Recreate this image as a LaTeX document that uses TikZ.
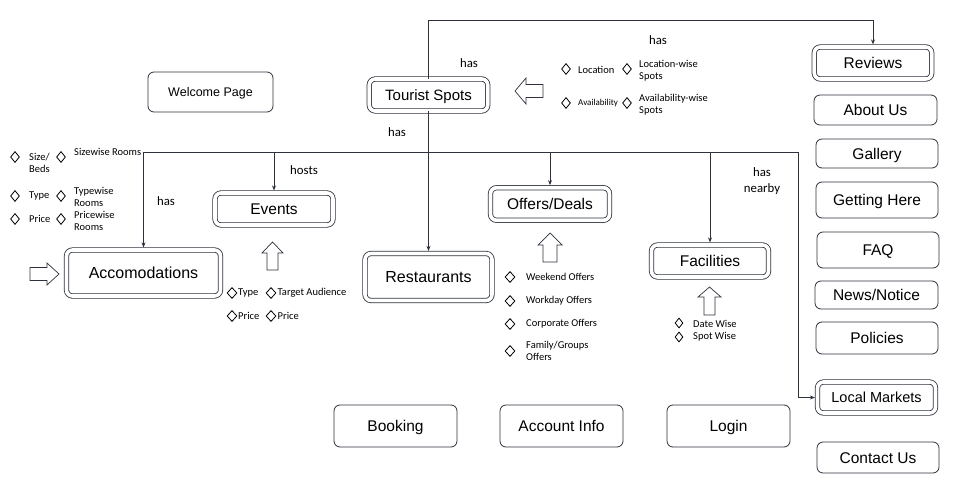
\documentclass[tikz,border=0pt]{standalone}
\usepackage{fontspec}
\setmainfont{Liberation Sans}
\newfontfamily\calfont{Carlito}
\usetikzlibrary{shapes.geometric,arrows.meta}
\definecolor{ln}{RGB}{45,50,60}
\begin{document}
\begin{tikzpicture}[x=1pt,y=-1pt,
  every node/.style={inner sep=0pt, text=black},
  dbox/.style={draw=ln, double=white, double distance=3.6pt, line width=0.8pt, rounded corners=6pt, text height=11.2pt, text depth=0pt, font=\fontsize{15.5}{18}\selectfont},
  sbox/.style={draw=ln, line width=0.8pt, rounded corners=6pt, minimum width=122pt, text height=11.2pt, text depth=0pt, font=\fontsize{15.5}{18}\selectfont},
  lbl/.style={font=\calfont\fontsize{12.8}{16}\selectfont, align=center},
  sm/.style={font=\calfont\fontsize{10.5}{12.5}\selectfont, anchor=west, align=left},
  dia/.style={diamond, draw=black, line width=0.8pt, minimum width=9pt, minimum height=11pt, inner sep=0pt},
  con/.style={draw=ln, line width=0.8pt},
  arr/.style={con, -{Stealth[length=5pt,width=4pt]}},
  darr/.style={arr, shorten >=2.2pt},
  blk/.style={draw=ln, line width=0.7pt, fill=white, line join=miter}
]
\useasboundingbox[fill=white] (0,0) rectangle (960,481);

% ---------- boxes ----------
\node[sbox, minimum width=125pt, minimum height=40pt, font=\fontsize{12.5}{15}\selectfont, text height=9pt] (wel) at (210.5,92) {Welcome Page};
\node[dbox, minimum width=118.5pt, minimum height=32pt, font=\fontsize{15}{18}\selectfont, text height=10.8pt] (ts) at (428.5,95) {Tourist Spots};
\node[dbox, minimum width=154pt, minimum height=46pt, font=\fontsize{16}{19}\selectfont, text height=11.5pt] (acc) at (143.5,273) {Accomodations};
\node[dbox, minimum width=118pt, minimum height=32pt] (ev) at (274,209) {Events};
\node[dbox, minimum width=127pt, minimum height=47pt, font=\fontsize{16}{19}\selectfont, text height=11.5pt] (rest) at (428.5,277) {Restaurants};
\node[dbox, minimum width=119pt, minimum height=32.5pt] (off) at (550,204) {Offers/Deals};
\node[dbox, minimum width=117pt, minimum height=32pt] (fac) at (710,261) {Facilities};

\node[dbox, minimum width=117.5pt, minimum height=32pt] (rev) at (873,63) {Reviews};
\node[sbox, minimum width=123pt, minimum height=30pt] (about) at (875.5,110) {About Us};
\node[sbox, minimum height=29pt] (gal) at (877,153.5) {Gallery};
\node[sbox, minimum height=36pt] (get) at (877,200) {Getting Here};
\node[sbox, minimum height=36pt] (faq) at (878,250) {FAQ};
\node[sbox, minimum width=123pt, minimum height=28pt] (news) at (876.5,295) {News/Notice};
\node[sbox, minimum height=32pt] (pol) at (877,338) {Policies};
\node[dbox, minimum width=118pt, minimum height=31pt, font=\fontsize{14.5}{17}\selectfont, text height=10.4pt] (lm) at (876.5,397.5) {Local Markets};
\node[sbox, minimum height=31pt] (cont) at (878,457.5) {Contact Us};

\node[sbox, minimum width=123pt, minimum height=42pt] (book) at (395.5,426) {Booking};
\node[sbox, minimum width=123pt, minimum height=42pt] (acct) at (561.5,426) {Account Info};
\node[sbox, minimum width=123pt, minimum height=42pt] (login) at (728.5,426) {Login};

% ---------- connectors ----------
\coordinate (tt) at (428.5,20);
\draw[darr] (ts.north) -- (tt) -| (rev.north);
\draw[darr] (ts.south) -- (rest.north);
\coordinate (j) at (428.5,152);
\coordinate (jr) at (798,152);
\draw[darr] (j) -| (acc.north);
\draw[darr] (j) -- (jr) |- (lm.west);
\draw[darr] (ev.north |- j) -- (ev.north);
\draw[darr] (off.north |- j) -- (off.north);
\draw[darr] (fac.north |- j) -- (fac.north);

% ---------- connector labels ----------
\node[lbl] (l1) at (658,40) {has};
\node[lbl] (l2) at (469,63) {has};
\node[lbl] (l3) at (397,132) {has};
\node[lbl] (l4) at (166,201) {has};
\node[lbl] (l5) at (304,170) {hosts};
\node[lbl] (l6) at (762,181) {has\\nearby};

% ---------- block arrows ----------
\draw[blk] (30,267.5) -- (47,267.5) -- (47,263) -- (59,274) -- (47,285) -- (47,280.5) -- (30,280.5) -- cycle;
\draw[blk] (543,84.5) -- (526,84.5) -- (526,78) -- (515,91) -- (526,104) -- (526,97.5) -- (543,97.5) -- cycle;
\draw[blk] (267,270) -- (267,253) -- (262,253) -- (272.5,242) -- (283,253) -- (278,253) -- (278,270) -- cycle;
\draw[blk] (543,262) -- (543,245) -- (538,245) -- (550,233) -- (562,245) -- (557,245) -- (557,262) -- cycle;
\draw[blk] (704,315) -- (704,297) -- (698,297) -- (709.5,287) -- (721,297) -- (715,297) -- (715,315) -- cycle;

% ---------- accommodation attributes ----------
\node[dia] (a1) at (15,157) {};
\node[sm] (a1t) at (29,163) {Size/\\Beds};
\node[dia] (a2) at (61,157) {};
\node[sm] (a2t) at (74,152) {Sizewise Rooms};
\node[dia] (a3) at (15,196) {};
\node[sm] (a3t) at (29,196) {Type};
\node[dia] (a4) at (61,196) {};
\node[sm] (a4t) at (74,197) {Typewise\\Rooms};
\node[dia] (a5) at (15,219) {};
\node[sm] (a5t) at (29,219) {Price};
\node[dia] (a6) at (61,219) {};
\node[sm] (a6t) at (74,221) {Pricewise\\Rooms};

% ---------- tourist spot attributes ----------
\node[dia] (t1) at (566,69) {};
\node[sm] (t1t) at (578,69.5) {Location};
\node[dia] (t2) at (627,69) {};
\node[sm] (t2t) at (639,70.5) {Location-wise\\Spots};
\node[dia] (t3) at (566,103) {};
\node[sm, font=\calfont\fontsize{9}{11}\selectfont] (t3t) at (578,103) {Availability};
\node[dia] (t4) at (627,103) {};
\node[sm] (t4t) at (639,104.5) {Availability-wise\\Spots};

% ---------- event attributes ----------
\node[dia, minimum width=10pt] (e1) at (232,293) {};
\node[sm] (e1t) at (238,293) {Type};
\node[dia, minimum width=10pt] (e2) at (271,293) {};
\node[sm] (e2t) at (277.5,293) {Target Audience};
\node[dia, minimum width=10pt] (e3) at (232,316) {};
\node[sm] (e3t) at (238,316) {Price};
\node[dia, minimum width=10pt] (e4) at (271,316) {};
\node[sm] (e4t) at (277.5,316) {Price};

% ---------- offers ----------
\node[dia, minimum width=10pt] (o1) at (510,277) {};
\node[sm] (o1t) at (526,277) {Weekend Offers};
\node[dia, minimum width=10pt] (o2) at (510,301) {};
\node[sm] (o2t) at (526,301) {Workday Offers};
\node[dia, minimum width=10pt] (o3) at (510,324) {};
\node[sm] (o3t) at (526,324) {Corporate Offers};
\node[dia, minimum width=10pt] (o4) at (510,351) {};
\node[sm] (o4t) at (526,351) {Family/Groups\\Offers};

% ---------- facilities ----------
\node[dia, minimum width=8pt, minimum height=10pt] (f1) at (679,323) {};
\node[sm] (f1t) at (693,323.5) {Date Wise};
\node[dia, minimum width=8pt, minimum height=10pt] (f2) at (679,337) {};
\node[sm] (f2t) at (693,337) {Spot Wise};
\end{tikzpicture}
\end{document}
